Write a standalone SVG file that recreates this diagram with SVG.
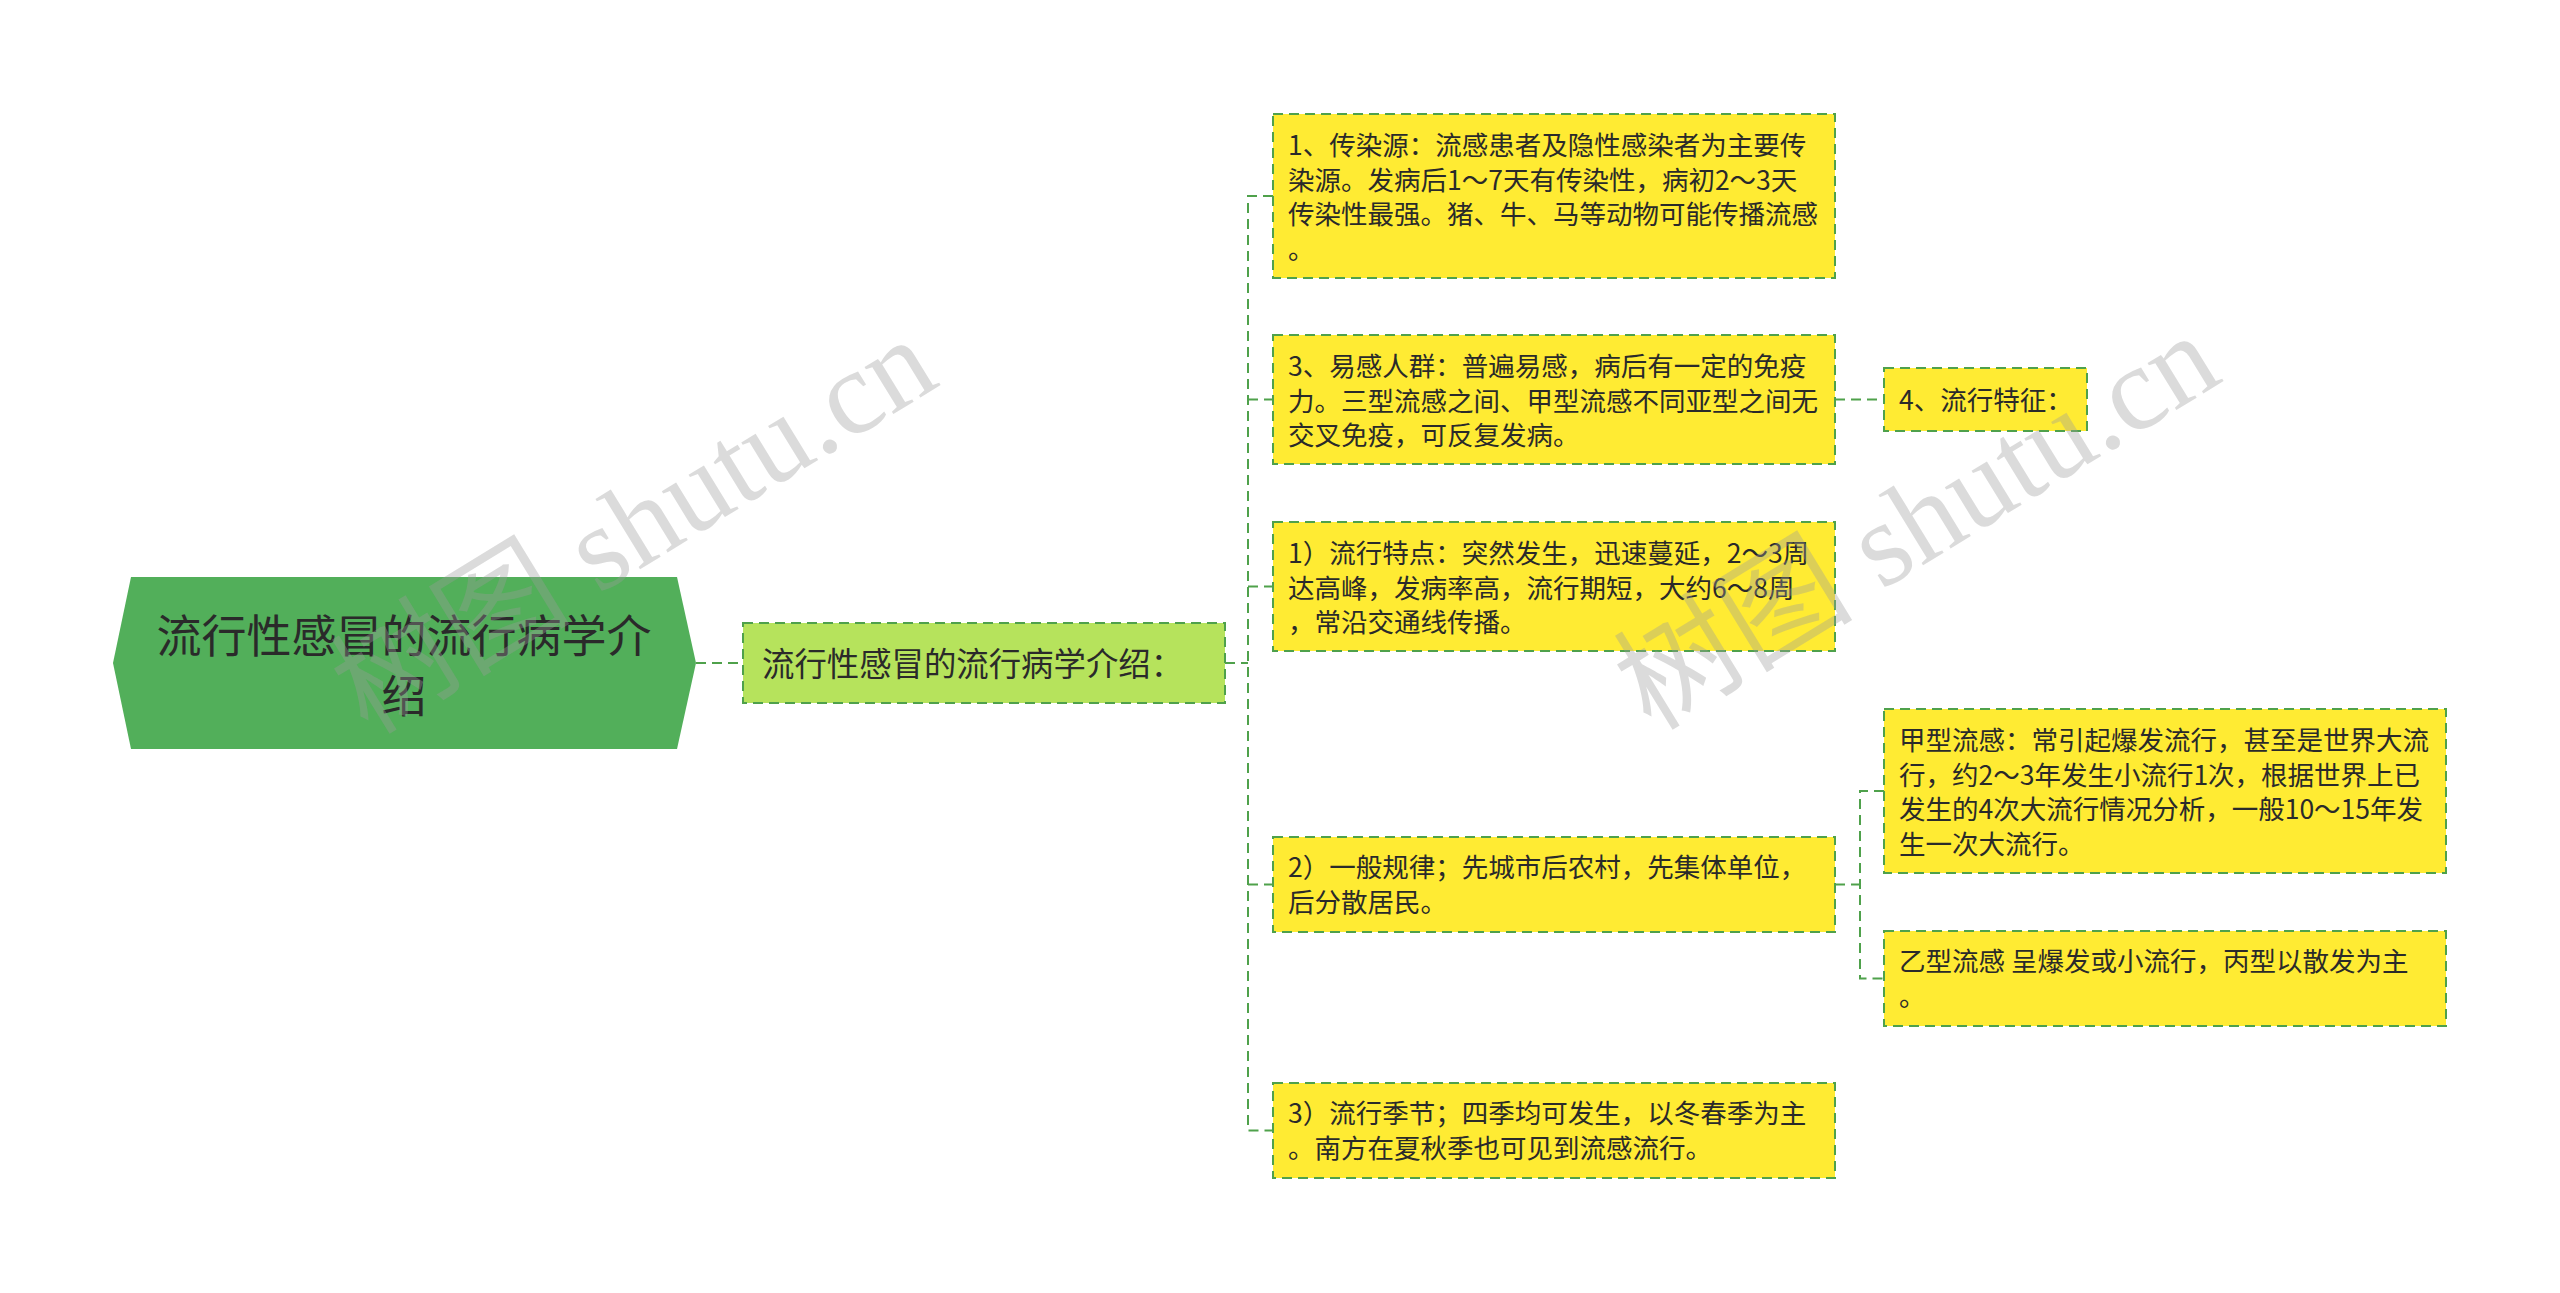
<svg xmlns="http://www.w3.org/2000/svg" width="2560" height="1293" viewBox="0 0 2560 1293">
<style>
text{font-family:"Noto Sans CJK SC","Microsoft YaHei",sans-serif;fill:#2a2a2a}
.t{font-size:26.5px}
.box{fill:#ffeb33;stroke:#4fa14b;stroke-width:2;stroke-dasharray:10 6}
.l1{fill:#b6e35c;stroke:#4fa14b;stroke-width:2;stroke-dasharray:10 6}
.c{fill:none;stroke:#4fa14b;stroke-width:2;stroke-dasharray:10 6}
.wm{font-family:"Liberation Serif","Noto Sans CJK SC",serif;font-size:120px;fill:#9a9a9a;fill-opacity:0.36}
</style>
<rect width="2560" height="1293" fill="#ffffff"/>
<g id="connectors">
<path class="c" d="M696 663 H743" stroke-width="3"/>
<path class="c" d="M1225 663 H1248"/>
<path class="c" d="M1273 196 H1248 V1130.5 H1273"/>
<path class="c" d="M1248 399.5 H1273"/>
<path class="c" d="M1248 586.5 H1273"/>
<path class="c" d="M1248 884.5 H1273"/>
<path class="c" d="M1835 399.5 H1884"/>
<path class="c" d="M1835 884.5 H1860"/>
<path class="c" d="M1884 791 H1860 V978.5 H1884"/>
</g>
<g id="root">
<polygon points="113,663 131,577 677,577 696,663 677,749 131,749" fill="#52af5a"/>
<text x="404" y="653" font-size="45" text-anchor="middle">流行性感冒的流行病学介</text>
<text x="404" y="713" font-size="45" text-anchor="middle">绍</text>
</g>
<g id="n-l1">
<rect class="l1" x="743" y="623" width="482" height="80"/>
<text x="762" y="676" font-size="32.4">流行性感冒的流行病学介绍：</text>
</g>
<g id="n-source">
<rect class="box" x="1273" y="114" width="562" height="164"/>
<text class="t" x="1288" y="155">1、传染源：流感患者及隐性感染者为主要传</text>
<text class="t" x="1288" y="189.5">染源。发病后1～7天有传染性，病初2～3天</text>
<text class="t" x="1288" y="224">传染性最强。猪、牛、马等动物可能传播流感</text>
<text class="t" x="1288" y="258.5">。</text>
</g>
<g id="n-susceptible">
<rect class="box" x="1273" y="335" width="562" height="129"/>
<text class="t" x="1288" y="376">3、易感人群：普遍易感，病后有一定的免疫</text>
<text class="t" x="1288" y="410.5">力。三型流感之间、甲型流感不同亚型之间无</text>
<text class="t" x="1288" y="445">交叉免疫，可反复发病。</text>
</g>
<g id="n-feature">
<rect class="box" x="1884" y="368" width="203" height="63"/>
<text class="t" x="1899" y="409.5">4、流行特征：</text>
</g>
<g id="n-trait">
<rect class="box" x="1273" y="522" width="562" height="129"/>
<text class="t" x="1288" y="563">1）流行特点：突然发生，迅速蔓延，2～3周</text>
<text class="t" x="1288" y="597.5">达高峰，发病率高，流行期短，大约6～8周</text>
<text class="t" x="1288" y="632">，常沿交通线传播。</text>
</g>
<g id="n-rule">
<rect class="box" x="1273" y="837" width="562" height="95"/>
<text class="t" x="1288" y="877">2）一般规律；先城市后农村，先集体单位，</text>
<text class="t" x="1288" y="911.5">后分散居民。</text>
</g>
<g id="n-typeA">
<rect class="box" x="1884" y="709" width="562" height="164"/>
<text class="t" x="1899" y="750">甲型流感：常引起爆发流行，甚至是世界大流</text>
<text class="t" x="1899" y="784.5">行，约2～3年发生小流行1次，根据世界上已</text>
<text class="t" x="1899" y="819">发生的4次大流行情况分析，一般10～15年发</text>
<text class="t" x="1899" y="853.5">生一次大流行。</text>
</g>
<g id="n-typeB">
<rect class="box" x="1884" y="931" width="562" height="95"/>
<text class="t" x="1899" y="971">乙型流感 呈爆发或小流行，丙型以散发为主</text>
<text class="t" x="1899" y="1005.5">。</text>
</g>
<g id="n-season">
<rect class="box" x="1273" y="1083" width="562" height="95"/>
<text class="t" x="1288" y="1123">3）流行季节；四季均可发生，以冬春季为主</text>
<text class="t" x="1288" y="1157.5">。南方在夏秋季也可见到流感流行。</text>
</g>
<g id="watermarks">
<text class="wm" x="0" y="0" text-anchor="middle" transform="translate(655,560) rotate(-31.5)">树图 shutu.cn</text>
<text class="wm" x="0" y="0" text-anchor="middle" transform="translate(1938,556) rotate(-31.5)">树图 shutu.cn</text>
</g>
</svg>
